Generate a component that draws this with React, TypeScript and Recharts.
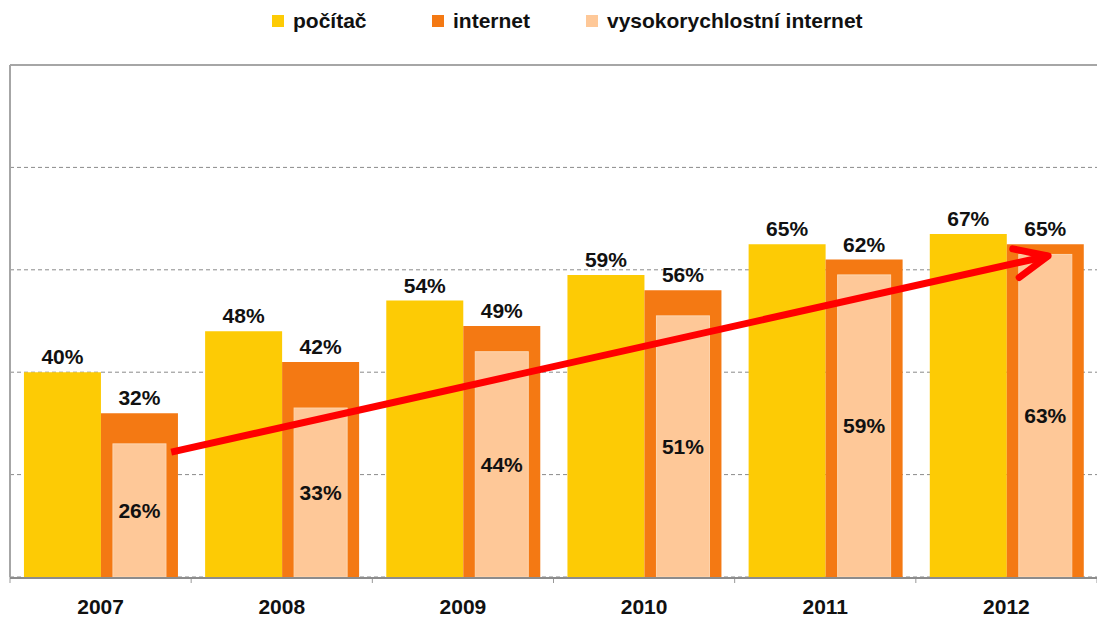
import React from "react";
import {
  Bar,
  CartesianGrid,
  ComposedChart,
  LabelList,
  ReferenceLine,
  XAxis,
  YAxis,
} from "recharts";

const YEARS = ["2007", "2008", "2009", "2010", "2011", "2012"];
const COMPUTER = [40, 48, 54, 59, 65, 67];
const INTERNET = [32, 42, 49, 56, 62, 65];
const HIGHSPEED = [26, 33, 44, 51, 59, 63];

const SERIES_NAMES = ["počítač", "internet", "vysokorychlostní internet"];
const SERIES_COLORS = ["#FDCB05", "#F47913", "#FEC898"];

// trend arrow, in band units (0..6 across the categories) and percent
const ARROW_X = [0.89, 5.73];
const ARROW_Y = [24.4, 62.7];

const Y_TICKS = [20, 40, 60, 80, 100];
const BAND_TICKS = [0, 1, 2, 3, 4, 5, 6];

const FONT = "'Liberation Sans', Arial, sans-serif";

const rows = YEARS.map((year, i) => ({
  year,
  slot: i + 0.5,
  computer: COMPUTER[i],
  internet: INTERNET[i],
  highspeed: HIGHSPEED[i],
}));

const pct = (v: unknown) => `${v}%`;

const NoTick = () => <g />;

// high-speed bar sits inside the internet bar, a bit narrower
function InsetBar(props: any) {
  const { x, y, width, height, fill } = props;
  const inset = 12;
  return (
    <rect
      x={x + inset}
      y={y}
      width={Math.max(0, width - inset * 2)}
      height={height}
      fill={fill}
      stroke="#FDD6B0"
      strokeWidth={1}
    />
  );
}

function Arrow(props: any) {
  const { x1, y1, x2, y2 } = props;
  if ([x1, y1, x2, y2].some((v) => typeof v !== "number" || Number.isNaN(v))) return <g />;
  const back = Math.atan2(y1 - y2, x1 - x2);
  const spread = (24 * Math.PI) / 180;
  const len = 36;
  const ax = x2 + len * Math.cos(back + spread);
  const ay = y2 + len * Math.sin(back + spread);
  const bx = x2 + len * Math.cos(back - spread);
  const by = y2 + len * Math.sin(back - spread);
  return (
    <g>
      <line x1={x1} y1={y1} x2={x2} y2={y2} stroke="#FF0000" strokeWidth={7} />
      <polyline
        points={`${ax},${ay} ${x2},${y2} ${bx},${by}`}
        fill="none"
        stroke="#FF0000"
        strokeWidth={7}
        strokeLinecap="round"
        strokeLinejoin="round"
      />
    </g>
  );
}

function TopLegend() {
  const starts = [272, 432, 586];
  return (
    <div style={{ position: "absolute", left: 0, top: 0, width: 1097, height: 45 }}>
      {SERIES_NAMES.map((name, i) => (
        <div
          key={name}
          style={{
            position: "absolute",
            left: starts[i],
            top: 9,
            display: "flex",
            alignItems: "center",
            fontFamily: FONT,
            fontWeight: "bold",
            fontSize: 21,
            color: "#111",
            whiteSpace: "nowrap",
          }}
        >
          <span
            style={{
              display: "inline-block",
              width: 12,
              height: 12,
              background: SERIES_COLORS[i],
              marginRight: 9,
            }}
          />
          {name}
        </div>
      ))}
    </div>
  );
}

const labelStyle = { fontFamily: FONT, fontWeight: "bold" as const, fontSize: 21, fill: "#111" };

export default function App() {
  return (
    <div style={{ position: "absolute", left: 0, top: 0, width: 1097, height: 618, background: "#fff" }}>
      <TopLegend />
      <ComposedChart
        width={1097}
        height={618}
        data={rows}
        margin={{ top: 65, right: 0, bottom: 0, left: 9 }}
        barCategoryGap="7.7%"
        barGap={0}
      >
        <CartesianGrid
          xAxisId="cat"
          yAxisId={0}
          vertical={false}
          stroke="#8a8a8a"
          strokeDasharray="4 3"
        />
        <XAxis
          xAxisId="band"
          dataKey="slot"
          type="number"
          domain={[0, 6]}
          allowDataOverflow
          ticks={BAND_TICKS}
          height={1}
          axisLine={false}
          tick={NoTick}
          tickLine={{ stroke: "#999" }}
          tickSize={6}
        />
        <XAxis
          xAxisId="cat"
          dataKey="year"
          height={40}
          axisLine={{ stroke: "#8c8c8c", strokeWidth: 2 }}
          tickLine={false}
          tickMargin={15}
          tick={labelStyle}
        />
        <XAxis xAxisId="hs" dataKey="year" hide />
        <YAxis
          domain={[0, 100]}
          ticks={Y_TICKS}
          width={1}
          tick={NoTick}
          tickLine={false}
          axisLine={{ stroke: "#a6a6a6", strokeWidth: 2 }}
        />
        <ReferenceLine xAxisId="cat" y={100} stroke="#a6a6a6" strokeWidth={2} />
        <Bar xAxisId="cat" dataKey="computer" fill={SERIES_COLORS[0]} isAnimationActive={false}>
          <LabelList dataKey="computer" position="top" offset={8} formatter={pct} style={labelStyle} />
        </Bar>
        <Bar xAxisId="cat" dataKey="internet" fill={SERIES_COLORS[1]} isAnimationActive={false}>
          <LabelList dataKey="internet" position="top" offset={8} formatter={pct} style={labelStyle} />
        </Bar>
        <Bar
          xAxisId="hs"
          dataKey="computer"
          fill="transparent"
          legendType="none"
          isAnimationActive={false}
        />
        <Bar
          xAxisId="hs"
          dataKey="highspeed"
          fill={SERIES_COLORS[2]}
          shape={<InsetBar />}
          isAnimationActive={false}
        >
          <LabelList dataKey="highspeed" position="center" formatter={pct} style={labelStyle} />
        </Bar>
        <ReferenceLine
          xAxisId="band"
          segment={[
            { x: ARROW_X[0], y: ARROW_Y[0] },
            { x: ARROW_X[1], y: ARROW_Y[1] },
          ]}
          ifOverflow="visible"
          shape={(p: any) => <Arrow {...p} />}
        />
      </ComposedChart>
    </div>
  );
}
